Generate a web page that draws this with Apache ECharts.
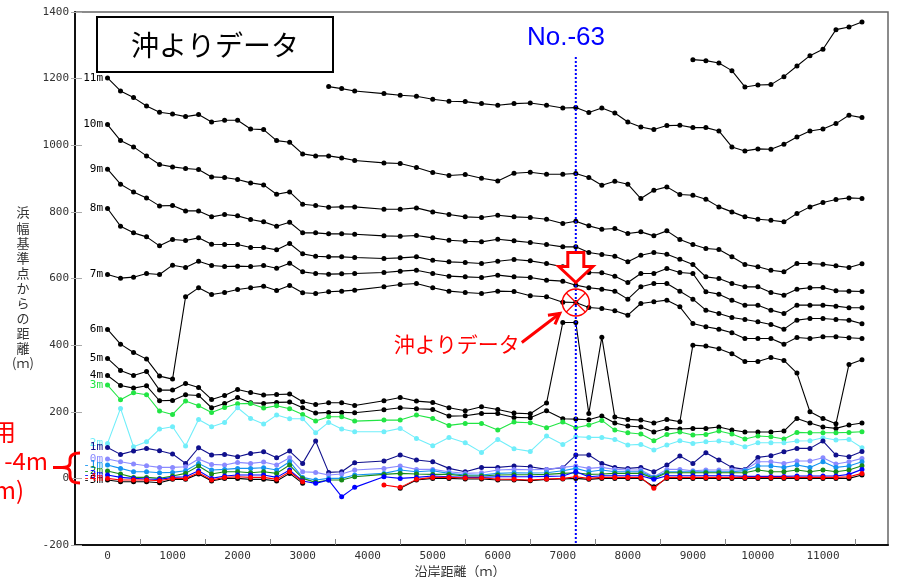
<!DOCTYPE html>
<html>
<head>
<meta charset="utf-8">
<script src="https://cdn.jsdelivr.net/npm/echarts@6/dist/echarts.min.js"></script>
<style>
html,body{margin:0;padding:0;background:#fff;}
#c{width:908px;height:577px;}
</style>
</head>
<body>
<div id="c"></div>
<script>
// Alongshore distance of each survey line (m)
const DIST = [0,200,400,600,800,1000,1200,1400,1600,1800,2000,2200,2400,2600,2800,3000,3200,3400,3600,3800,
  4250,4500,4750,5000,5250,5500,5750,6000,6250,6500,6750,7000,
  7200,7400,7600,7800,8000,8200,8400,8600,8800,9000,9200,9400,9600,9800,10000,10200,10400,10600,10800,11000,11200,11400,11600];

// Distance from the beach reference point to each depth contour (m)
const N = null;
const D13 = [N,N,N,N,N,N,N,N,N,N,N,N,N,N,N,N,N,N,N,N,
  N,N,N,N,N,N,N,N,N,N,N,N,
  N,N,N,N,N,N,N,N,N,1257,1254,1247,1224,1175,1181,1182,1206,1238,1269,1288,1347,1355,1370];
const D12 = [N,N,N,N,N,N,N,N,N,N,N,N,N,N,N,N,N,1176,1170,1163,
  1155,1150,1147,1138,1132,1131,1125,1120,1125,1127,1120,1112,
  1113,1098,1112,1097,1070,1055,1047,1059,1060,1053,1053,1043,995,983,989,988,1003,1025,1043,1049,1065,1090,1083];
const D11 = [1202,1163,1143,1118,1099,1094,1086,1092,1070,1075,1075,1049,1047,1014,1009,974,968,968,962,954,
  947,945,933,918,909,912,901,893,916,919,913,913,
  915,903,880,892,883,840,865,875,852,850,838,815,800,785,778,775,770,795,815,828,837,842,840];
const D10 = [1062,1014,995,968,942,935,930,927,905,903,897,887,881,853,860,823,819,814,815,815,
  808,808,812,800,792,785,783,790,785,783,778,765,
  772,758,748,750,735,740,728,743,717,702,690,687,665,642,635,625,620,645,645,643,638,633,644];
const D9 = [928,883,860,842,818,819,803,803,785,792,788,777,770,757,769,737,737,734,734,733,
  728,727,729,722,715,712,710,718,713,708,702,695,
  695,678,672,667,650,670,678,673,658,642,605,600,585,575,575,558,550,568,572,573,563,562,561];
const D8 = [810,757,737,725,698,717,714,722,703,702,702,693,693,686,705,674,667,665,665,663,
  660,662,665,655,650,648,645,652,657,653,645,635,
  625,618,617,607,588,615,615,630,618,615,560,553,535,520,520,505,495,520,520,520,517,512,512];
const D7 = [612,601,604,615,612,640,633,652,639,636,637,636,639,631,646,620,615,613,614,615,
  618,622,625,615,607,605,603,610,605,603,595,592,
  580,572,568,562,538,575,585,585,562,538,505,495,483,477,470,462,448,475,480,480,477,475,464];
const D6 = [447,403,378,358,307,298,545,572,552,558,567,572,577,564,579,557,555,560,562,565,
  575,582,585,572,562,558,555,562,561,548,545,529,
  528,513,510,503,490,525,530,535,515,465,455,448,437,420,420,420,403,423,420,425,425,422,420];
const D5 = [360,324,309,321,265,265,285,273,237,249,267,258,250,252,253,230,222,227,227,219,
  233,243,232,228,212,203,215,207,196,194,226,468,
  468,195,424,184,177,175,166,177,170,400,397,389,374,351,351,363,354,316,200,180,164,342,356];
const D4 = [309,279,271,278,233,234,251,249,212,225,243,227,225,228,229,212,196,198,198,197,
  206,212,209,207,187,188,195,195,183,182,203,179,
  178,176,187,166,157,154,139,150,148,150,150,154,145,139,139,139,142,180,166,154,150,160,166];
const D3 = [280,236,257,251,202,192,232,218,198,213,224,225,211,218,209,192,172,185,185,172,
  175,175,190,180,159,165,165,145,169,167,152,169,
  152,160,174,145,137,133,113,132,139,130,132,142,133,118,127,125,118,138,137,137,137,138,140];
const D2 = [105,210,95,110,148,155,97,177,155,168,212,180,163,190,179,179,137,168,148,140,
  140,150,120,98,123,107,78,117,89,81,127,102,
  125,123,123,117,100,102,85,100,113,105,110,112,107,95,107,107,107,112,113,122,115,117,92];
const D1 = [93,72,82,90,83,73,45,92,70,72,65,75,80,62,82,45,112,18,20,47,
  52,70,55,50,30,20,33,33,37,35,27,32,
  70,70,45,33,30,33,20,40,67,45,77,55,33,27,63,68,80,90,90,112,70,65,81];
const D0 = [58,50,43,38,33,33,35,58,42,40,48,45,49,40,62,20,18,10,13,25,
  30,37,27,27,20,15,17,25,27,26,27,33,
  37,30,33,27,25,25,5,27,27,23,25,25,25,25,50,50,45,52,52,62,43,50,60];
const DM1 = [40,30,20,20,17,18,23,45,25,27,30,30,32,25,50,3,-5,0,0,10,
  15,25,20,23,15,10,10,15,17,16,17,23,
  30,20,25,20,20,20,3,20,20,20,20,20,20,23,37,37,33,40,33,50,33,37,50];
const DM2 = [22,13,3,3,0,7,15,37,13,20,20,17,20,15,40,0,-12,-5,-5,5,
  12,15,13,12,12,7,7,10,11,11,12,15,
  17,12,13,15,15,15,0,17,17,17,17,17,17,17,25,20,20,25,20,25,20,25,38];
const DM3 = [10,3,0,-2,-3,3,5,23,0,7,10,10,10,3,25,-8,-15,-5,-55,-27,
  5,0,3,7,5,3,3,5,5,5,6,7,
  20,5,8,8,8,8,-3,8,8,8,8,8,8,6,6,6,6,7,7,7,7,12,27];
const DM4 = [0,-5,-5,-5,-7,0,0,17,-5,3,5,3,3,-3,20,-10,N,N,N,N,
  -20,-27,-3,3,3,1,1,-2,-3,-5,-2,0,
  5,0,3,3,3,3,-30,3,3,3,3,3,3,3,3,3,3,3,3,3,3,5,15];
const DM5 = [-5,-10,-10,-10,-13,-3,-3,13,-8,0,0,-3,-3,-8,15,-15,N,N,N,N,
  N,-30,-5,0,0,-2,-2,-5,-5,-7,-3,-2,
  0,-3,0,0,0,0,-25,0,0,0,0,0,0,0,0,0,0,0,0,0,0,0,10];

// Axis tick labels
const X_LABELS = [0,1000,2000,3000,4000,5000,6000,7000,8000,9000,10000,11000];
const X_TICKS = [500,1500,2500,3500,4500,5500,6500,7500,8500,9500,10500,11500];
const Y_LABELS = [-200,0,200,400,600,800,1000,1200,1400];

// Survey line No.-63 and the contour point taken from offshore data there
const NO63_DIST = 7200;
const NO63_LINE_TOP = 1265;

const SERIES = [
  {name:'13m', values:D13, color:'#000000', tag:false},
  {name:'12m', values:D12, color:'#000000', tag:false},
  {name:'11m', values:D11, color:'#000000', tag:true},
  {name:'10m', values:D10, color:'#000000', tag:true},
  {name:'9m',  values:D9,  color:'#000000', tag:true},
  {name:'8m',  values:D8,  color:'#000000', tag:true},
  {name:'7m',  values:D7,  color:'#000000', tag:true},
  {name:'6m',  values:D6,  color:'#000000', tag:true},
  {name:'5m',  values:D5,  color:'#000000', tag:true},
  {name:'4m',  values:D4,  color:'#000000', tag:true},
  {name:'3m',  values:D3,  color:'#22e544', tag:true},
  {name:'2m',  values:D2,  color:'#70eefa', tag:true},
  {name:'1m',  values:D1,  color:'#10108c', tag:true},
  {name:'0m',  values:D0,  color:'#8a8aff', tag:true},
  {name:'-1m', values:DM1, color:'#1494f0', tag:true},
  {name:'-2m', values:DM2, color:'#178a17', tag:true},
  {name:'-3m', values:DM3, color:'#0000ff', tag:true},
  {name:'-5m', values:DM5, color:'#000000', tag:true},
  {name:'-4m', values:DM4, color:'#ff0000', tag:true}
];

const chart = echarts.init(document.getElementById('c'));

const lineSeries = SERIES.map((s, k) => ({
  type: 'line',
  name: s.name,
  data: DIST.map((x, i) => {
    const v = s.values[i];
    if (v === null) return [x, '-'];
    if (i === 0 && s.tag) return {value: [x, v], label: {show: true}};
    return [x, v];
  }),
  symbol: 'circle',
  symbolSize: 5,
  connectNulls: false,
  lineStyle: {color: s.color, width: 1.1},
  itemStyle: {color: s.color},
  label: {
    show: false, position: 'left', distance: 2, formatter: s.name,
    color: s.color, fontSize: 11, fontFamily: 'DejaVu Sans Mono'
  },
  emphasis: {disabled: true},
  silent: true,
  z: 2 + k * 0.01
}));

lineSeries.push({
  type: 'line',
  name: 'No.-63',
  data: [[NO63_DIST, NO63_LINE_TOP], [NO63_DIST, -200]],
  symbol: 'none',
  lineStyle: {color: '#0000ff', width: 2, type: [2, 2]},
  silent: true,
  z: 5
});

const tickLabelStyle = {color: '#333', fontSize: 11, fontFamily: 'DejaVu Sans Mono', formatter: v => String(v)};

chart.setOption({
  animation: false,
  backgroundColor: '#ffffff',
  grid: {left: 75, right: 20, top: 12, bottom: 32, show: true, borderColor: '#666', borderWidth: 1.5, containLabel: false},
  xAxis: {
    type: 'value', min: -500, max: 12000,
    axisLine: {show: true, onZero: false, lineStyle: {color: '#111', width: 2}},
    axisTick: {show: true, inside: true, length: 6, customValues: X_TICKS, lineStyle: {color: '#888'}},
    axisLabel: Object.assign({customValues: X_LABELS, margin: 6}, tickLabelStyle),
    splitLine: {show: false}
  },
  yAxis: [{
    type: 'value', min: -200, max: 1400,
    axisLine: {show: true, onZero: false, lineStyle: {color: '#111', width: 2}},
    axisTick: {show: true, length: 4, customValues: Y_LABELS, lineStyle: {color: '#aaa'}},
    axisLabel: Object.assign({customValues: Y_LABELS, margin: 6}, tickLabelStyle),
    splitLine: {show: false}
  }, {
    type: 'value', min: -200, max: 1400, position: 'left', offset: 0,
    axisLine: {show: false, onZero: false},
    axisTick: {show: true, inside: true, length: 7, customValues: Y_LABELS, lineStyle: {color: '#aaa'}},
    axisLabel: {show: false},
    splitLine: {show: false}
  }],
  series: lineSeries
});

// Annotation around the offshore-derived point at No.-63
const i63 = DIST.indexOf(NO63_DIST);
const mark = chart.convertToPixel({gridIndex: 0}, [NO63_DIST, D6[i63]]);
const cx = mark[0], cy = mark[1];
const red = '#ff0000';

const tipY = cy - 20;
const downArrow = [
  [-8, -30], [8, -30], [8, -16], [17, -16], [0, 0], [-17, -16], [-8, -16]
].map(p => [cx + p[0], tipY + p[1]]);

const ax0 = cx - 54, ay0 = cy + 40, ax1 = cx - 16, ay1 = cy + 11;
const ang = Math.atan2(ay1 - ay0, ax1 - ax0);
const wing = 12;
const w1 = [ax1 - wing * Math.cos(ang - 0.5), ay1 - wing * Math.sin(ang - 0.5)];
const w2 = [ax1 - wing * Math.cos(ang + 0.5), ay1 - wing * Math.sin(ang + 0.5)];

const braceStyle = {fill: 'none', stroke: red, lineWidth: 3};
function bez(x1, y1, cpx1, cpy1, x2, y2) {
  return {type: 'bezierCurve', z: 21, shape: {x1, y1, cpx1, cpy1, x2, y2}, style: braceStyle};
}
function seg(x1, y1, x2, y2) {
  return {type: 'line', z: 21, shape: {x1, y1, x2, y2}, style: braceStyle};
}

chart.setOption({
  graphic: [
    // title box
    {type: 'rect', shape: {x: 97, y: 17, width: 236, height: 55},
     style: {fill: '#fff', stroke: '#000', lineWidth: 2}, z: 20},
    {type: 'text', x: 215, y: 45, z: 21,
     style: {text: '沖よりデータ', fill: '#000', font: '28px "Noto Sans CJK JP"', align: 'center', verticalAlign: 'middle'}},
    // survey line name
    {type: 'text', x: 566, y: 38, z: 21,
     style: {text: 'No.-63', fill: '#0000ff', font: '26px "Liberation Sans"', align: 'center', verticalAlign: 'middle'}},
    // y axis name
    {type: 'text', x: 23, y: 205, z: 21,
     style: {text: '浜\n幅\n基\n準\n点\nか\nら\nの\n距\n離\n(ｍ)', fill: '#333', font: '13px "Noto Sans CJK JP"',
             lineHeight: 15.1, align: 'center', verticalAlign: 'top'}},
    // x axis name
    {type: 'text', x: 460, y: 571, z: 21,
     style: {text: '沿岸距離（ｍ）', fill: '#333', font: '13px "Noto Sans CJK JP"', align: 'center', verticalAlign: 'middle'}},
    // red side note and brace
    {type: 'text', x: 16, y: 432, z: 21,
     style: {text: '用', fill: red, font: '24px "Noto Sans CJK JP"', align: 'right', verticalAlign: 'middle'}},
    {type: 'text', x: 48, y: 461, z: 21,
     style: {text: '-4m', fill: red, font: '24px "Noto Sans CJK JP"', align: 'right', verticalAlign: 'middle'}},
    {type: 'text', x: 24, y: 490, z: 21,
     style: {text: 'm)', fill: red, font: '24px "Noto Sans CJK JP"', align: 'right', verticalAlign: 'middle'}},
    bez(80, 453, 70, 453, 70, 460),
    seg(70, 460, 70, 463),
    bez(70, 463, 70, 467.5, 62, 467.5),
    bez(62, 467.5, 70, 467.5, 70, 472),
    seg(70, 472, 70, 476),
    bez(70, 476, 70, 483, 80, 483),
    seg(53, 467.5, 62, 467.5),
    // hollow down arrow
    {type: 'polygon', shape: {points: downArrow}, z: 22,
     style: {fill: '#fff', stroke: red, lineWidth: 3, lineJoin: 'miter'}},
    // circled cross on the point
    {type: 'circle', shape: {cx: cx, cy: cy, r: 13.5}, z: 22,
     style: {fill: 'none', stroke: red, lineWidth: 1.5}},
    {type: 'line', shape: {x1: cx - 9.5, y1: cy - 9.5, x2: cx + 9.5, y2: cy + 9.5}, z: 22,
     style: {stroke: red, lineWidth: 1.3}},
    {type: 'line', shape: {x1: cx - 9.5, y1: cy + 9.5, x2: cx + 9.5, y2: cy - 9.5}, z: 22,
     style: {stroke: red, lineWidth: 1.3}},
    // pointer arrow and note
    {type: 'polyline', shape: {points: [[ax0, ay0], [ax1, ay1]]}, z: 22,
     style: {stroke: red, lineWidth: 3}},
    {type: 'polyline', shape: {points: [w1, [ax1, ay1], w2]}, z: 22,
     style: {fill: 'none', stroke: red, lineWidth: 3}},
    {type: 'text', x: cx - 56, y: cy + 42, z: 22,
     style: {text: '沖よりデータ', fill: red, font: '21px "Noto Sans CJK JP"', align: 'right', verticalAlign: 'middle'}}
  ]
});
</script>
</body>
</html>
